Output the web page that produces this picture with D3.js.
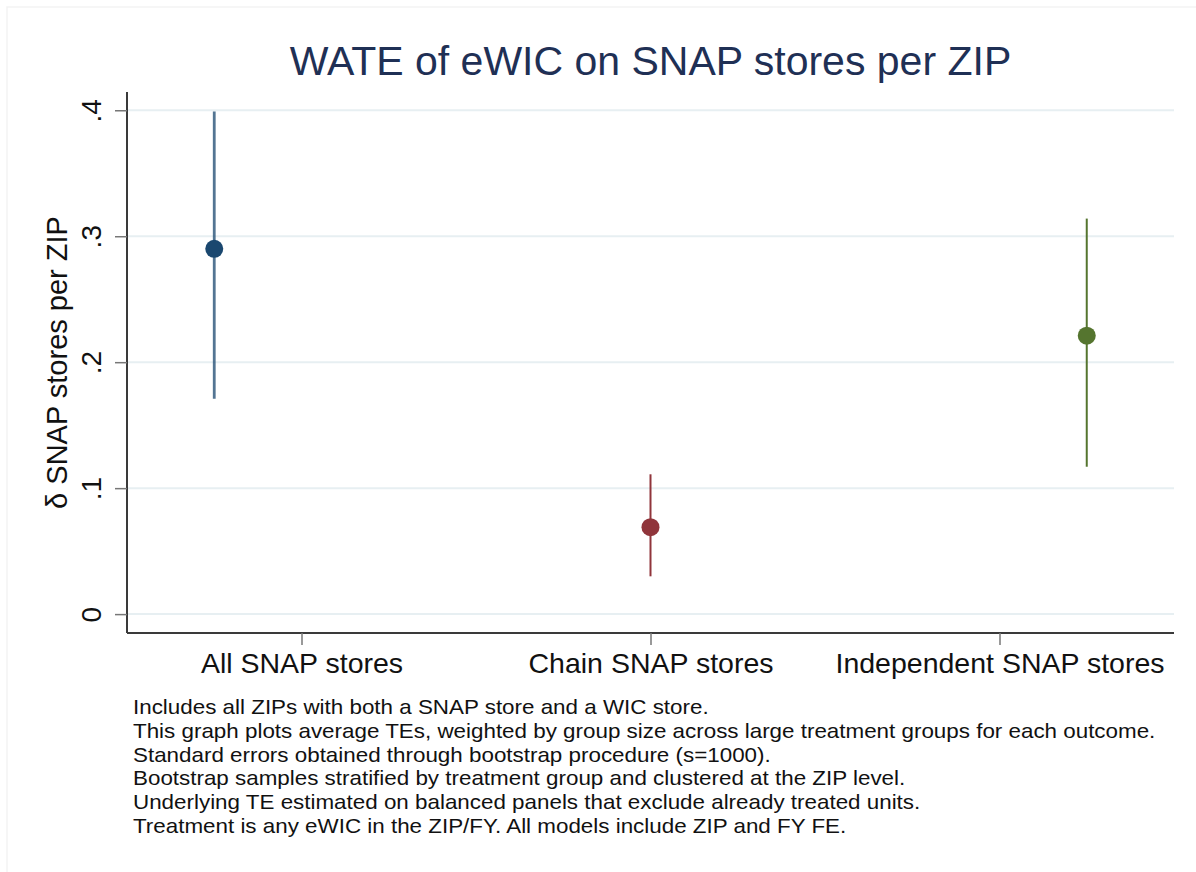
<!DOCTYPE html>
<html>
<head>
<meta charset="utf-8">
<script src="https://cdn.jsdelivr.net/npm/d3@7"></script>
<style>
	body { margin: 0; background: #fff; }
	text { font-family: "Liberation Sans", Arial, sans-serif; }
</style>
</head>
<body>
<script>
const categories = ["All SNAP stores", "Chain SNAP stores", "Independent SNAP stores"];
const categoryTicks = [1, 2, 3];
const pointPos = [0.75, 2, 3.25];
const estimates = [0.290, 0.069, 0.221];
const ciLow = [0.171, 0.030, 0.117];
const ciHigh = [0.399, 0.111, 0.314];
const yTicks = [0, 0.1, 0.2, 0.3, 0.4];
const yTickLabels = ["0", ".1", ".2", ".3", ".4"];
const colors = ["#1a476f", "#90353b", "#55752f"];
const notes = [
	"Includes all ZIPs with both a SNAP store and a WIC store.",
	"This graph plots average TEs, weighted by group size across large treatment groups for each outcome.",
	"Standard errors obtained through bootstrap procedure (s=1000).",
	"Bootstrap samples stratified by treatment group and clustered at the ZIP level.",
	"Underlying TE estimated on balanced panels that exclude already treated units.",
	"Treatment is any eWIC in the ZIP/FY. All models include ZIP and FY FE."
];

const width = 1196,
	height = 872;

const plotLeft = 127, plotRight = 1174, plotTop = 92, plotBottom = 633;

const svg = d3.select("body")
	.append("svg")
	.attr("width", width)
	.attr("height", height);

// faint outer frame
svg.append("rect")
	.attr("x", 7)
	.attr("y", 7)
	.attr("width", width)
	.attr("height", height)
	.attr("fill", "none")
	.attr("stroke", "#f3f3f3")
	.attr("stroke-width", 1.5);

const x = d3.scaleLinear().domain([0.5, 3.5]).range([plotLeft, plotRight]);
const y = d3.scaleLinear().domain([-0.015, 0.4145]).range([plotBottom, plotTop]);

const rows = estimates.map((d, i) => ({
	pos: pointPos[i],
	est: d,
	lo: ciLow[i],
	hi: ciHigh[i],
	color: colors[i]
}));

svg.append("g")
	.attr("class", "grid")
	.selectAll("line")
	.data(yTicks)
	.join("line")
	.attr("x1", plotLeft)
	.attr("x2", plotRight)
	.attr("y1", d => y(d))
	.attr("y2", d => y(d))
	.attr("stroke", "#e7eff2")
	.attr("stroke-width", 2);

const yAxis = d3.axisLeft(y)
	.tickValues(yTicks)
	.tickFormat((d, i) => yTickLabels[i])
	.tickSize(12)
	.tickSizeOuter(0);

const xAxis = d3.axisBottom(x)
	.tickValues(categoryTicks)
	.tickFormat((d, i) => categories[i])
	.tickSize(12)
	.tickSizeOuter(0);

const gy = svg.append("g")
	.attr("class", "y-axis")
	.attr("transform", "translate(" + plotLeft + ",0)")
	.call(yAxis);

gy.select(".domain")
	.attr("d", "M0," + plotTop + "V" + plotBottom)
	.attr("stroke", "#3a3a3a")
	.attr("stroke-width", 2);
gy.selectAll(".tick line").attr("stroke", "#777").attr("stroke-width", 1.5);
gy.selectAll(".tick text")
	.attr("transform", "rotate(-90)")
	.attr("x", 0)
	.attr("y", -26)
	.attr("dy", 0)
	.attr("text-anchor", "middle")
	.attr("fill", "#111")
	.style("font-size", "28px");

const gx = svg.append("g")
	.attr("class", "x-axis")
	.attr("transform", "translate(0," + plotBottom + ")")
	.call(xAxis);

gx.select(".domain")
	.attr("d", "M" + plotLeft + ",0H" + plotRight)
	.attr("stroke", "#3a3a3a")
	.attr("stroke-width", 2);
gx.selectAll(".tick line").attr("stroke", "#777").attr("stroke-width", 1.5);
gx.selectAll(".tick text")
	.attr("y", 40)
	.attr("dy", 0)
	.attr("fill", "#111")
	.style("font-size", "28.5px");

svg.append("g")
	.selectAll("line")
	.data(rows)
	.join("line")
	.attr("x1", d => x(d.pos))
	.attr("x2", d => x(d.pos))
	.attr("y1", d => y(d.lo))
	.attr("y2", d => y(d.hi))
	.attr("stroke", d => d.color)
	.attr("stroke-opacity", (d, i) => i === 0 ? 0.75 : 1)
	.attr("stroke-width", (d, i) => i === 0 ? 2.8 : 2);

svg.append("g")
	.selectAll("circle")
	.data(rows)
	.join("circle")
	.attr("cx", d => x(d.pos))
	.attr("cy", d => y(d.est))
	.attr("r", 9)
	.attr("fill", d => d.color);

svg.append("text")
	.attr("x", (plotLeft + plotRight) / 2)
	.attr("y", 75)
	.attr("text-anchor", "middle")
	.attr("fill", "#1f3055")
	.style("font-size", "41px")
	.text("WATE of eWIC on SNAP stores per ZIP");

svg.append("text")
	.attr("transform", "translate(67," + (plotTop + plotBottom) / 2 + ") rotate(-90)")
	.attr("text-anchor", "middle")
	.attr("fill", "#111")
	.style("font-size", "29px")
	.text("δ SNAP stores per ZIP");

// the notes are a bit stretched sideways in the original
svg.append("g")
	.attr("transform", "translate(133,0) scale(1.12,1)")
	.selectAll("text")
	.data(notes)
	.join("text")
	.attr("x", 0)
	.attr("y", (d, i) => 714 + i * 23.8)
	.attr("fill", "#111")
	.style("font-size", "20px")
	.text(d => d);
</script>
</body>
</html>
